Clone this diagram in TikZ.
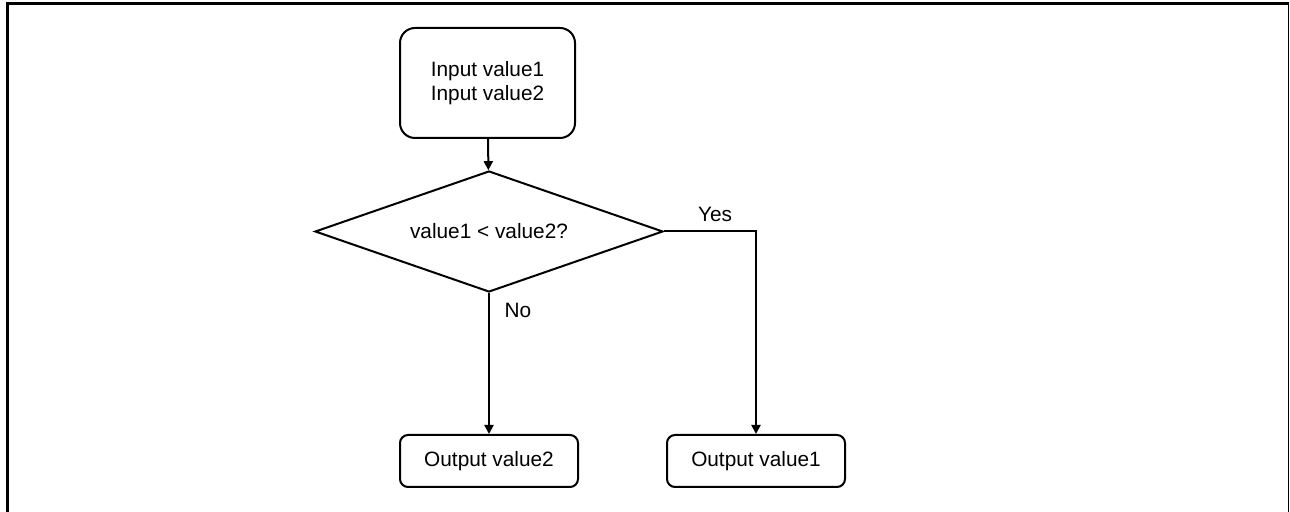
\documentclass[tikz,border=0pt]{standalone}
\usepackage{fontspec}
\setmainfont{Liberation Sans}
\usetikzlibrary{arrows.meta,positioning,shapes.geometric}
\tikzset{
  stepbox/.style={draw, line width=1pt, rounded corners=7.5pt, align=center,
    minimum width=87.5pt, minimum height=55pt, inner sep=0pt,
    font=\fontsize{10.4}{12.2}\selectfont},
  outbox/.style={stepbox, rounded corners=4pt, minimum width=89pt, minimum height=26pt},
  decbox/.style={draw, line width=1pt, diamond, aspect=2.9, inner sep=0pt,
    minimum width=174pt, minimum height=60.5pt, font=\fontsize{10.4}{12.2}\selectfont},
  lbl/.style={font=\fontsize{10.4}{12.2}\selectfont, inner sep=0pt},
  arr/.style={-{Triangle[length=4.5pt,width=4.5pt]}, line width=1pt}
}
\begin{document}
\begin{tikzpicture}[x=0.5pt,y=-0.5pt]
  \useasboundingbox (0,0) rectangle (1290,512);
  \draw[line width=1.5pt] (7.5,512) -- (7.5,3.8) -- (1288.5,3.8);
  \draw[line width=0.75pt] (1288.5,3.8) -- (1288.5,512);
  \node[stepbox] (inp) at (487.5,83) {Input value1\\Input value2};
  \node[decbox] (cmp) at (489,231.5) {value1 < value2?};
  \node[outbox] (out2) at (489,461) {Output value2};
  \node[outbox] (out1) at (756,461) {Output value1};
  \node[lbl] (yes) at (715,214) {Yes};
  \node[lbl] (no) at (518,310) {No};
  \draw[arr] (inp) -- (cmp);
  \draw[arr] (cmp.south) -- (out2);
  \draw[arr] (cmp.east) -| (out1);
\end{tikzpicture}
\end{document}
